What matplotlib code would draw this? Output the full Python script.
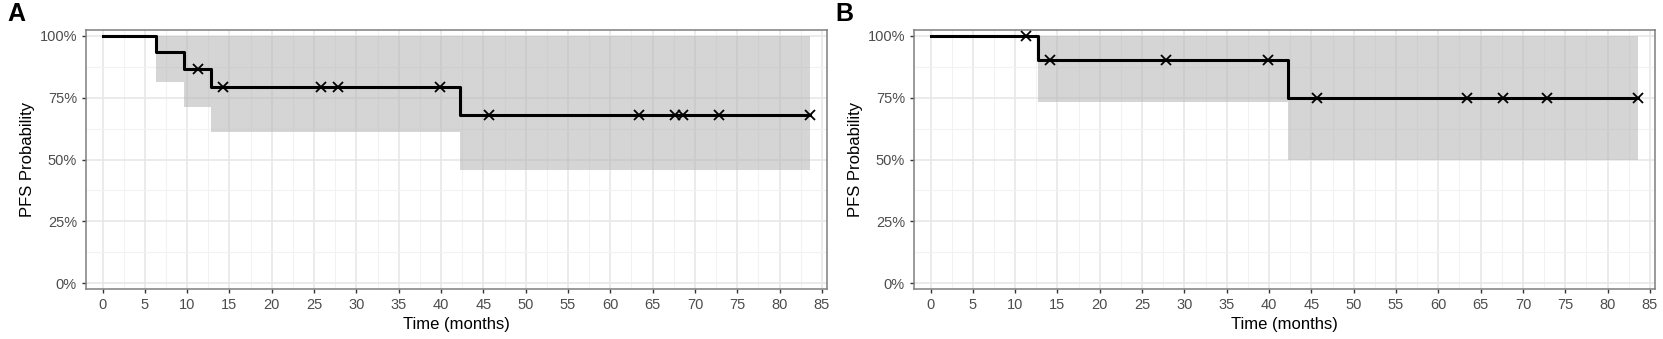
import matplotlib
matplotlib.use("Agg")
import matplotlib.pyplot as plt
from matplotlib.ticker import FuncFormatter, MultipleLocator

plt.rcParams['font.family'] = ['Liberation Sans', 'DejaVu Sans']

# Panel A: Kaplan-Meier steps (time, survival), lower CI, censor times
a_time = [0, 6.3, 9.65, 12.8, 42.2, 83.6]
a_surv = [1.0, 0.933, 0.867, 0.794, 0.681, 0.681]
a_low = [1.0, 0.814, 0.711, 0.612, 0.458, 0.458]
a_up = [1.0, 1.0, 1.0, 1.0, 1.0, 1.0]
a_cens = [11.27, 14.2, 25.85, 27.8, 39.9, 45.7, 63.4, 67.6, 68.6, 72.8, 83.6]

# Panel B
b_time = [0, 12.74, 42.2, 83.6]
b_surv = [1.0, 0.90, 0.75, 0.75]
b_low = [1.0, 0.733, 0.498, 0.498]
b_up = [1.0, 1.0, 1.0, 1.0]
b_cens = [11.24, 14.1, 27.8, 39.9, 45.7, 63.4, 67.6, 72.8, 83.6]


def surv_at(times, surv, t):
    s = surv[0]
    for ti, si in zip(times, surv):
        if ti <= t:
            s = si
    return s


def km_panel(ax, times, surv, low, up, cens, letter):
    ax.fill_between(times, low, up, step='post', color='#b3b3b3',
                    alpha=0.55, linewidth=0, zorder=2)
    ax.step(times, surv, where='post', color='black', lw=2.2, zorder=3)
    cy = [surv_at(times, surv, c) for c in cens]
    ax.plot(cens, cy, 'x', color='black', ms=7, mew=1.3, zorder=4)

    ax.set_xlim(-1.95, 85.6)
    ax.set_ylim(-0.023, 1.023)
    ax.xaxis.set_major_locator(MultipleLocator(5))
    ax.xaxis.set_minor_locator(MultipleLocator(2.5))
    ax.yaxis.set_major_locator(MultipleLocator(0.25))
    ax.yaxis.set_minor_locator(MultipleLocator(0.125))
    ax.yaxis.set_major_formatter(FuncFormatter(lambda v, p: f"{v * 100:.0f}%"))
    ax.grid(which='major', color='#e6e6e6', lw=1.1, zorder=0)
    ax.grid(which='minor', color='#f2f2f2', lw=0.8, zorder=0)
    ax.set_axisbelow(True)
    ax.tick_params(which='major', length=3, width=1, color='#333333',
                   labelcolor='#4d4d4d', labelsize=10.5)
    ax.tick_params(which='minor', length=0)
    for s in ax.spines.values():
        s.set_color('#7f7f7f')
        s.set_linewidth(1.1)
    ax.set_xlabel("Time (months)", fontsize=12, labelpad=3.5)
    ax.set_ylabel("PFS Probability", fontsize=12, labelpad=3)
    ax.text(-0.106, 1.11, letter, transform=ax.transAxes, fontsize=18,
            fontweight='bold', va='top', ha='left')


fig = plt.figure(figsize=(16.63, 3.39), dpi=100)
ax_a = fig.add_axes([86 / 1663, 50 / 339, 741 / 1663, 259 / 339])
ax_b = fig.add_axes([914 / 1663, 50 / 339, 741 / 1663, 259 / 339])

km_panel(ax_a, a_time, a_surv, a_low, a_up, a_cens, "A")
km_panel(ax_b, b_time, b_surv, b_low, b_up, b_cens, "B")

fig.savefig("out.png", dpi=100)
